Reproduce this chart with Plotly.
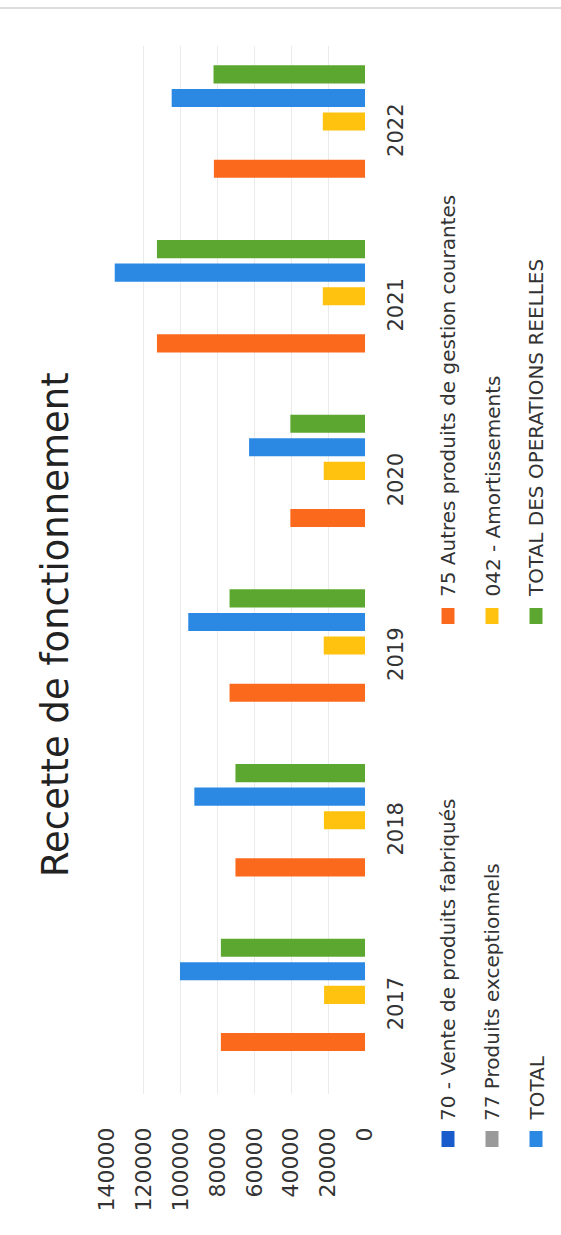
import plotly.graph_objects as go

# ---- data ----
years = ["2017", "2018", "2019", "2020", "2021", "2022"]
series_names = [
    "70 - Vente de produits fabriqués",
    "75 Autres produits de gestion courantes",
    "77 Produits exceptionnels",
    "042 - Amortissements",
    "TOTAL",
    "TOTAL DES OPERATIONS REELLES",
]
vente_70 = [0, 0, 0, 0, 0, 0]
autres_75 = [78200, 70300, 73500, 40500, 112900, 82000]
exceptionnels_77 = [0, 0, 0, 0, 0, 0]
amort_042 = [22200, 22300, 22400, 22400, 22900, 22900]
total = [100400, 92600, 95900, 62900, 135800, 104900]
total_reelles = [78200, 70300, 73500, 40500, 112900, 82200]
value_ticks = [0, 20000, 40000, 60000, 80000, 100000, 120000, 140000]

series_values = [vente_70, autres_75, exceptionnels_77, amort_042, total, total_reelles]
colors = ["#1a5ccc", "#fb6a1c", "#9a9a9a", "#ffc20f", "#2b88e3", "#5ca72f"]

# ---- layout geometry (pixels in a 561x1235 page) ----
W, H = 561, 1235
L, R, T, B = 107, 365, 46, 1094


def px(x):
    return (x - L) / (R - L)


def py(y):
    return (B - y) / (B - T)


fig = go.Figure()
for name, vals, col in zip(series_names, series_values, colors):
    fig.add_trace(go.Bar(x=vals, y=years, name=name, orientation="h",
                         marker=dict(color=col, line=dict(width=0))))

fig.update_layout(
    width=W, height=H,
    margin=dict(l=L, r=W - R, t=T, b=H - B, pad=0),
    barmode="group", bargap=0.19, bargroupgap=0.23,
    showlegend=False,
    plot_bgcolor="white", paper_bgcolor="white",
    font=dict(family="DejaVu Sans", color="#333333"),
)
fig.update_xaxes(
    range=[140000, 0], tickvals=value_ticks, tickformat="d",
    tickangle=-90, tickfont=dict(size=22, color="#333333"),
    showgrid=True, gridcolor="#ebebeb", gridwidth=1,
    zeroline=False, showline=False, ticks="", ticklabelstandoff=28,
)
fig.update_yaxes(
    type="category", categoryorder="array", categoryarray=years,
    side="right", tickangle=-90, tickfont=dict(size=21, color="#333333"),
    showgrid=False, zeroline=False, showline=False, ticks="",
    ticklabelstandoff=16,
)

annotations = [
    dict(text="Recette de fonctionnement", textangle=-90, showarrow=False,
         xref="paper", yref="paper", x=px(55), y=py(625), xanchor="center",
         yanchor="middle", font=dict(size=37, color="#222222", family="DejaVu Sans")),
]
shapes = [
    dict(type="line", xref="paper", yref="paper", x0=px(0), x1=px(W), y0=py(8), y1=py(8),
         line=dict(color="#dcdcdc", width=2)),
]

# legend built as rotated text (two columns of three entries)
legend_cols_x = [448, 492, 536]
legend_rows = [(1139, 1123), (616, 599)]  # (square centre y, text start y)
order = [[0, 2, 4], [1, 3, 5]]
for (sq_y, txt_y), idxs in zip(legend_rows, order):
    for lx, i in zip(legend_cols_x, idxs):
        shapes.append(dict(type="rect", xref="paper", yref="paper",
                           x0=px(lx - 6.5), x1=px(lx + 6.5),
                           y0=py(sq_y + 8), y1=py(sq_y - 8),
                           fillcolor=colors[i], line=dict(width=0)))
        annotations.append(dict(text=series_names[i], textangle=-90, showarrow=False,
                                xref="paper", yref="paper", x=px(lx), y=py(txt_y),
                                xanchor="center", yanchor="bottom",
                                font=dict(size=20, color="#333333")))

fig.update_layout(annotations=annotations, shapes=shapes)

fig.write_html("out.html", config={"displayModeBar": False},
               post_script="document.body.style.margin='0';")
